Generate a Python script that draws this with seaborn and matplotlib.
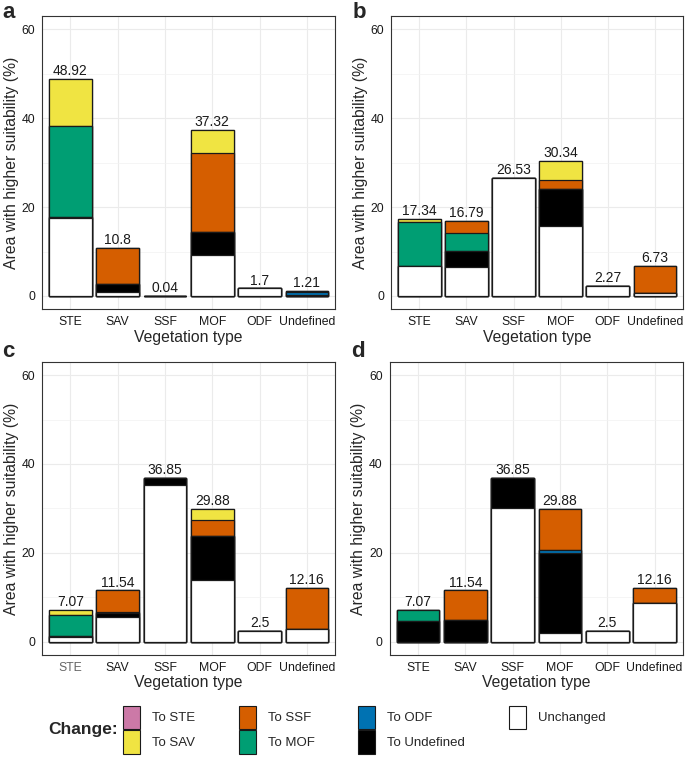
import numpy as np
import pandas as pd
import matplotlib
matplotlib.use("Agg")
import matplotlib.pyplot as plt
from matplotlib.patches import Patch
from matplotlib.ticker import MultipleLocator
import seaborn as sns

# --- data -------------------------------------------------------------
veg_types = ["STE", "SAV", "SSF", "MOF", "ODF", "Undefined"]

# stacking order, bottom -> top
change_levels = ["Unchanged", "To Undefined", "To ODF", "To MOF", "To SSF", "To SAV", "To STE"]
legend_order = ["To STE", "To SAV", "To SSF", "To MOF", "To ODF", "To Undefined", "Unchanged"]

palette = {
    "To STE": "#CC79A7",
    "To SAV": "#F0E442",
    "To SSF": "#D55E00",
    "To MOF": "#009E73",
    "To ODF": "#0072B2",
    "To Undefined": "#000000",
    "Unchanged": "#FFFFFF",
}

# panel a
panel_a = {
    "Unchanged":    [17.5, 0.8, 0.04, 9.2, 1.7, 0.05],
    "To Undefined": [0.35, 2.0, 0, 5.2, 0, 0.25],
    "To ODF":       [0, 0, 0, 0, 0, 0.5],
    "To MOF":       [20.5, 0, 0, 0, 0, 0],
    "To SSF":       [0, 8.0, 0, 17.7, 0, 0.41],
    "To SAV":       [10.57, 0, 0, 5.22, 0, 0],
    "To STE":       [0, 0, 0, 0, 0, 0],
}
totals_a = ["48.92", "10.8", "0.04", "37.32", "1.7", "1.21"]

# panel b
panel_b = {
    "Unchanged":    [6.8, 6.6, 26.53, 15.8, 2.27, 0.6],
    "To Undefined": [0, 3.6, 0, 8.3, 0, 0],
    "To ODF":       [0, 0, 0, 0, 0, 0],
    "To MOF":       [9.8, 3.9, 0, 0, 0, 0],
    "To SSF":       [0, 2.69, 0, 2.0, 0, 6.13],
    "To SAV":       [0.74, 0, 0, 4.24, 0, 0],
    "To STE":       [0, 0, 0, 0, 0, 0],
}
totals_b = ["17.34", "16.79", "26.53", "30.34", "2.27", "6.73"]

# panel c
panel_c = {
    "Unchanged":    [1.05, 5.5, 35.3, 14.0, 2.5, 2.8],
    "To Undefined": [0.35, 1.0, 1.55, 9.9, 0, 0],
    "To ODF":       [0, 0, 0, 0, 0, 0],
    "To MOF":       [4.7, 0.3, 0, 0, 0, 0],
    "To SSF":       [0, 4.74, 0, 3.4, 0, 9.36],
    "To SAV":       [0.97, 0, 0, 2.58, 0, 0],
    "To STE":       [0, 0, 0, 0, 0, 0],
}
totals_c = ["7.07", "11.54", "36.85", "29.88", "2.5", "12.16"]

# panel d
panel_d = {
    "Unchanged":    [0, 0, 30.0, 1.9, 2.5, 8.8],
    "To Undefined": [4.6, 4.9, 6.85, 18.0, 0, 0],
    "To ODF":       [0, 0, 0, 0.8, 0, 0],
    "To MOF":       [2.47, 0, 0, 0, 0, 0],
    "To SSF":       [0, 6.64, 0, 9.18, 0, 3.36],
    "To SAV":       [0, 0, 0, 0, 0, 0],
    "To STE":       [0, 0, 0, 0, 0, 0],
}
totals_d = ["7.07", "11.54", "36.85", "29.88", "2.5", "12.16"]

# --- style ------------------------------------------------------------
sns.set_style("white")
plt.rcParams["font.family"] = ["Liberation Sans", "DejaVu Sans"]

fig = plt.figure(figsize=(6.85, 7.6), dpi=100)

axes_pos = {
    "a": [0.0613, 0.593, 0.428, 0.386],
    "b": [0.571, 0.593, 0.426, 0.386],
    "c": [0.0613, 0.138, 0.428, 0.386],
    "d": [0.569, 0.138, 0.428, 0.386],
}
# where the bold panel letters go (figure fraction, top-left)
letter_pos = {"a": (0.003, 0.998), "b": (0.514, 0.998),
              "c": (0.003, 0.551), "d": (0.513, 0.551)}
panels = {"a": (panel_a, totals_a), "b": (panel_b, totals_b),
          "c": (panel_c, totals_c), "d": (panel_d, totals_d)}


def draw_panel(ax, data, totals):
    df = pd.DataFrame(data, index=veg_types)[change_levels]
    cum = df.cumsum(axis=1)
    # draw from the top layer down so lower segments sit on top
    for level in change_levels[::-1]:
        sns.barplot(x=veg_types, y=cum[level].values, order=veg_types,
                    color=palette[level], saturation=1, width=0.9,
                    edgecolor="#1a1a1a", linewidth=0.9, errorbar=None, ax=ax)
    for i, lab in enumerate(totals):
        ax.text(i, cum.iloc[i, -1] + 0.2, lab, ha="center", va="bottom",
                fontsize=10, color="#1a1a1a")

    ax.set_ylim(-3, 63)
    ax.set_xlim(-0.6, 5.6)
    ax.yaxis.set_major_locator(MultipleLocator(20))
    ax.yaxis.set_minor_locator(MultipleLocator(10))
    ax.set_axisbelow(True)
    ax.grid(True, which="major", color="#EBEBEB", linewidth=0.8)
    ax.grid(True, which="minor", axis="y", color="#F2F2F2", linewidth=0.5)
    for sp in ax.spines.values():
        sp.set_visible(True)
        sp.set_color("#333333")
        sp.set_linewidth(0.8)
    ax.tick_params(axis="both", which="major", length=3, width=0.7,
                   color="#333333", labelsize=8.8, labelcolor="#1a1a1a", pad=2)
    ax.tick_params(axis="y", which="minor", length=0)
    ax.set_xlabel("Vegetation type", fontsize=11.3, labelpad=1)
    ax.set_ylabel("Area with higher suitability (%)", fontsize=11.3, labelpad=2)


for key, pos in axes_pos.items():
    ax = fig.add_axes(pos)
    data, totals = panels[key]
    draw_panel(ax, data, totals)
    if key == "c":
        ax.get_xticklabels()[0].set_color("#666666")
    lx, ly = letter_pos[key]
    fig.text(lx, ly, key, fontsize=16, fontweight="bold", ha="left", va="top")

# --- legend -------------------------------------------------------------
handles = [Patch(facecolor=palette[k], edgecolor="#1a1a1a", linewidth=0.8)
           for k in legend_order]
fig.legend(handles, legend_order, loc="center left", ncol=4,
           bbox_to_anchor=(0.172, 0.040), frameon=False, fontsize=9.5,
           handlelength=1.3, handleheight=2.35, labelspacing=0.1,
           columnspacing=3.3, handletextpad=0.9, borderaxespad=0)
fig.text(0.07, 0.040, "Change:", fontsize=12.5, fontweight="bold",
         ha="left", va="center")

fig.savefig("out.png", dpi=100)
